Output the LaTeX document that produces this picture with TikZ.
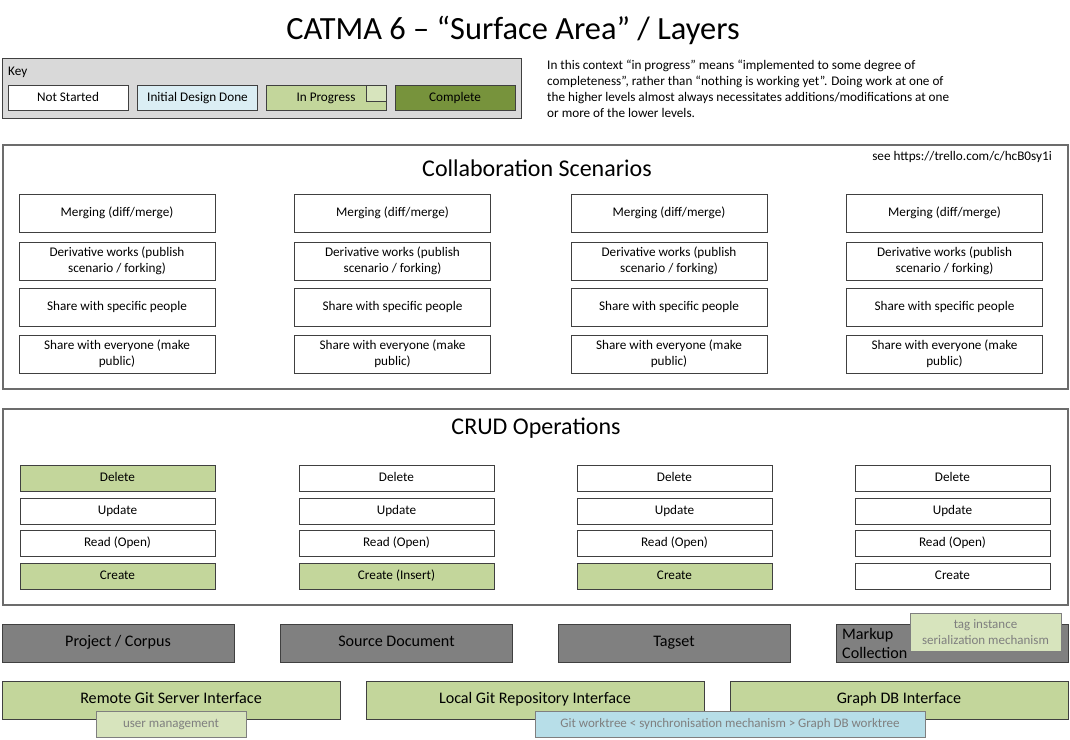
\documentclass[tikz,border=0pt]{standalone}
\usepackage{fontspec}
\setmainfont{Carlito}
\definecolor{keybg}{HTML}{D9D9D9}
\definecolor{initdes}{HTML}{DBEEF4}
\definecolor{inprog}{HTML}{C3D69B}
\definecolor{complete}{HTML}{77933C}
\definecolor{lightgreen}{HTML}{D7E4BD}
\definecolor{entgray}{HTML}{808080}
\definecolor{syncblue}{HTML}{B7DEE8}
\definecolor{bordgray}{HTML}{404040}
\definecolor{secgray}{HTML}{7F7F7F}
\definecolor{overtext}{HTML}{7F7F7F}
\tikzset{
  x=1pt,y=-1pt,
  oneline/.style={text height=0.8em,text depth=0.04em},
  basebox/.style={draw=bordgray,line width=1pt,inner sep=2pt,align=center,font=\fontsize{13.2}{16}\selectfont},
  keybox/.style={basebox,oneline,minimum width=120pt,minimum height=25pt},
  collbox/.style={basebox,fill=white,minimum width=196pt,minimum height=38pt},
  crudbox/.style={basebox,oneline,fill=white,minimum width=195pt,minimum height=26pt},
  crudgreen/.style={crudbox,fill=inprog},
  entbox/.style={basebox,oneline,fill=entgray,minimum width=232pt,minimum height=38pt,font=\fontsize{16.1}{19}\selectfont},
  ifbox/.style={basebox,oneline,fill=inprog,minimum width=338pt,minimum height=38pt,font=\fontsize{16.1}{19}\selectfont},
  overbox/.style={draw=secgray,line width=1pt,inner sep=2pt,align=center,text=overtext,font=\fontsize{13}{16}\selectfont},
  section/.style={draw=secgray!85!black,line width=1.3pt,fill=white},
  sectitle/.style={font=\fontsize{24}{28}\selectfont,inner sep=0pt}
}
\begin{document}
\begin{tikzpicture}
\useasboundingbox (0,0) rectangle (1070,739);
% title
\node[font=\fontsize{32.4}{38}\selectfont,inner sep=0pt] (title) at (513,30) {CATMA 6 – “Surface Area” / Layers};
% key
\node[draw=bordgray,line width=1pt,fill=keybg,minimum width=519pt,minimum height=60pt,inner sep=0pt] (keyframe) at (261.5,88) {};
\node[anchor=west,inner sep=0pt,font=\fontsize{13.2}{16}\selectfont] (keylabel) at (8,72) {Key};
\node[keybox,fill=white] (knot) at (68,97.5) {Not Started};
\node[keybox,fill=initdes] (kinit) at (197.5,97.5) {Initial Design Done};
\node[keybox,fill=inprog] (kprog) at (326,97.5) {In Progress};
\node[draw=bordgray,line width=1pt,fill=lightgreen,minimum width=20pt,minimum height=16pt,inner sep=0pt] (kprogsq) at (376,93) {};
\node[keybox,fill=complete] (kcomp) at (455,97.5) {Complete};
% note
\node[anchor=north west,inner sep=0pt,align=left,font=\fontsize{13.2}{16}\selectfont] (note) at (547,60) {In this context “in progress” means “implemented to some degree of\\completeness”, rather than “nothing is working yet”. Doing work at one of\\the higher levels almost always necessitates additions/modifications at one\\or more of the lower levels.};
% collaboration scenarios
\node[section,minimum width=1065pt,minimum height=244pt,inner sep=0pt] (collab) at (535.5,267) {};
\node[sectitle] (collabtitle) at (537,168) {Collaboration Scenarios};
\node[anchor=east,inner sep=0pt,font=\fontsize{13.2}{16}\selectfont] (trello) at (1052,157) {see https://trello.com/c/hcB0sy1i};
\foreach \c/\x in {1/117,2/392.5,3/669,4/944.5}{
  \node[collbox,oneline] (merge\c) at (\x,213) {Merging (diff/merge)};
  \node[collbox] (deriv\c) at (\x,261) {Derivative works (publish\\scenario / forking)};
  \node[collbox,oneline] (sharesp\c) at (\x,307) {Share with specific people};
  \node[collbox] (shareall\c) at (\x,354) {Share with everyone (make\\public)};
}
% CRUD
\node[section,minimum width=1065pt,minimum height=196pt,inner sep=0pt] (crud) at (535.5,507) {};
\node[sectitle] (crudtitle) at (536,428) {CRUD Operations};
\node[crudgreen] (del1) at (117.5,478) {Delete};
\node[crudbox] (upd1) at (117.5,511) {Update};
\node[crudbox] (read1) at (117.5,543) {Read (Open)};
\node[crudgreen] (cre1) at (117.5,576) {Create};
\node[crudbox] (del2) at (396.5,478) {Delete};
\node[crudbox] (upd2) at (396.5,511) {Update};
\node[crudbox] (read2) at (396.5,543) {Read (Open)};
\node[crudgreen] (cre2) at (396.5,576) {Create (Insert)};
\node[crudbox] (del3) at (674.5,478) {Delete};
\node[crudbox] (upd3) at (674.5,511) {Update};
\node[crudbox] (read3) at (674.5,543) {Read (Open)};
\node[crudgreen] (cre3) at (674.5,576) {Create};
\node[crudbox] (del4) at (952.5,478) {Delete};
\node[crudbox] (upd4) at (952.5,511) {Update};
\node[crudbox] (read4) at (952.5,543) {Read (Open)};
\node[crudbox] (cre4) at (952.5,576) {Create};
% entities
\node[entbox] (proj) at (118,643) {Project / Corpus};
\node[entbox] (srcdoc) at (396.5,643) {Source Document};
\node[entbox] (tagset) at (674,643) {Tagset};
\node[entbox] (markup) at (952,643) {};
\node[anchor=west,align=left,inner sep=0pt,font=\fontsize{16.1}{19}\selectfont] (markuptext) at (842,643) {Markup\\Collection};
\node[overbox,fill=lightgreen,minimum width=151pt,minimum height=38pt] (taginst) at (985.5,632) {tag instance\\serialization mechanism};
% interfaces
\node[ifbox] (remote) at (171,700) {Remote Git Server Interface};
\node[ifbox] (local) at (535,700) {Local Git Repository Interface};
\node[ifbox] (graph) at (899,700) {Graph DB Interface};
\node[overbox,oneline,fill=lightgreen,minimum width=150pt,minimum height=26pt] (userman) at (171,724) {user management};
\node[overbox,oneline,fill=syncblue,minimum width=390pt,minimum height=26pt] (sync) at (730,724) {Git worktree < synchronisation mechanism > Graph DB worktree};
\end{tikzpicture}
\end{document}
